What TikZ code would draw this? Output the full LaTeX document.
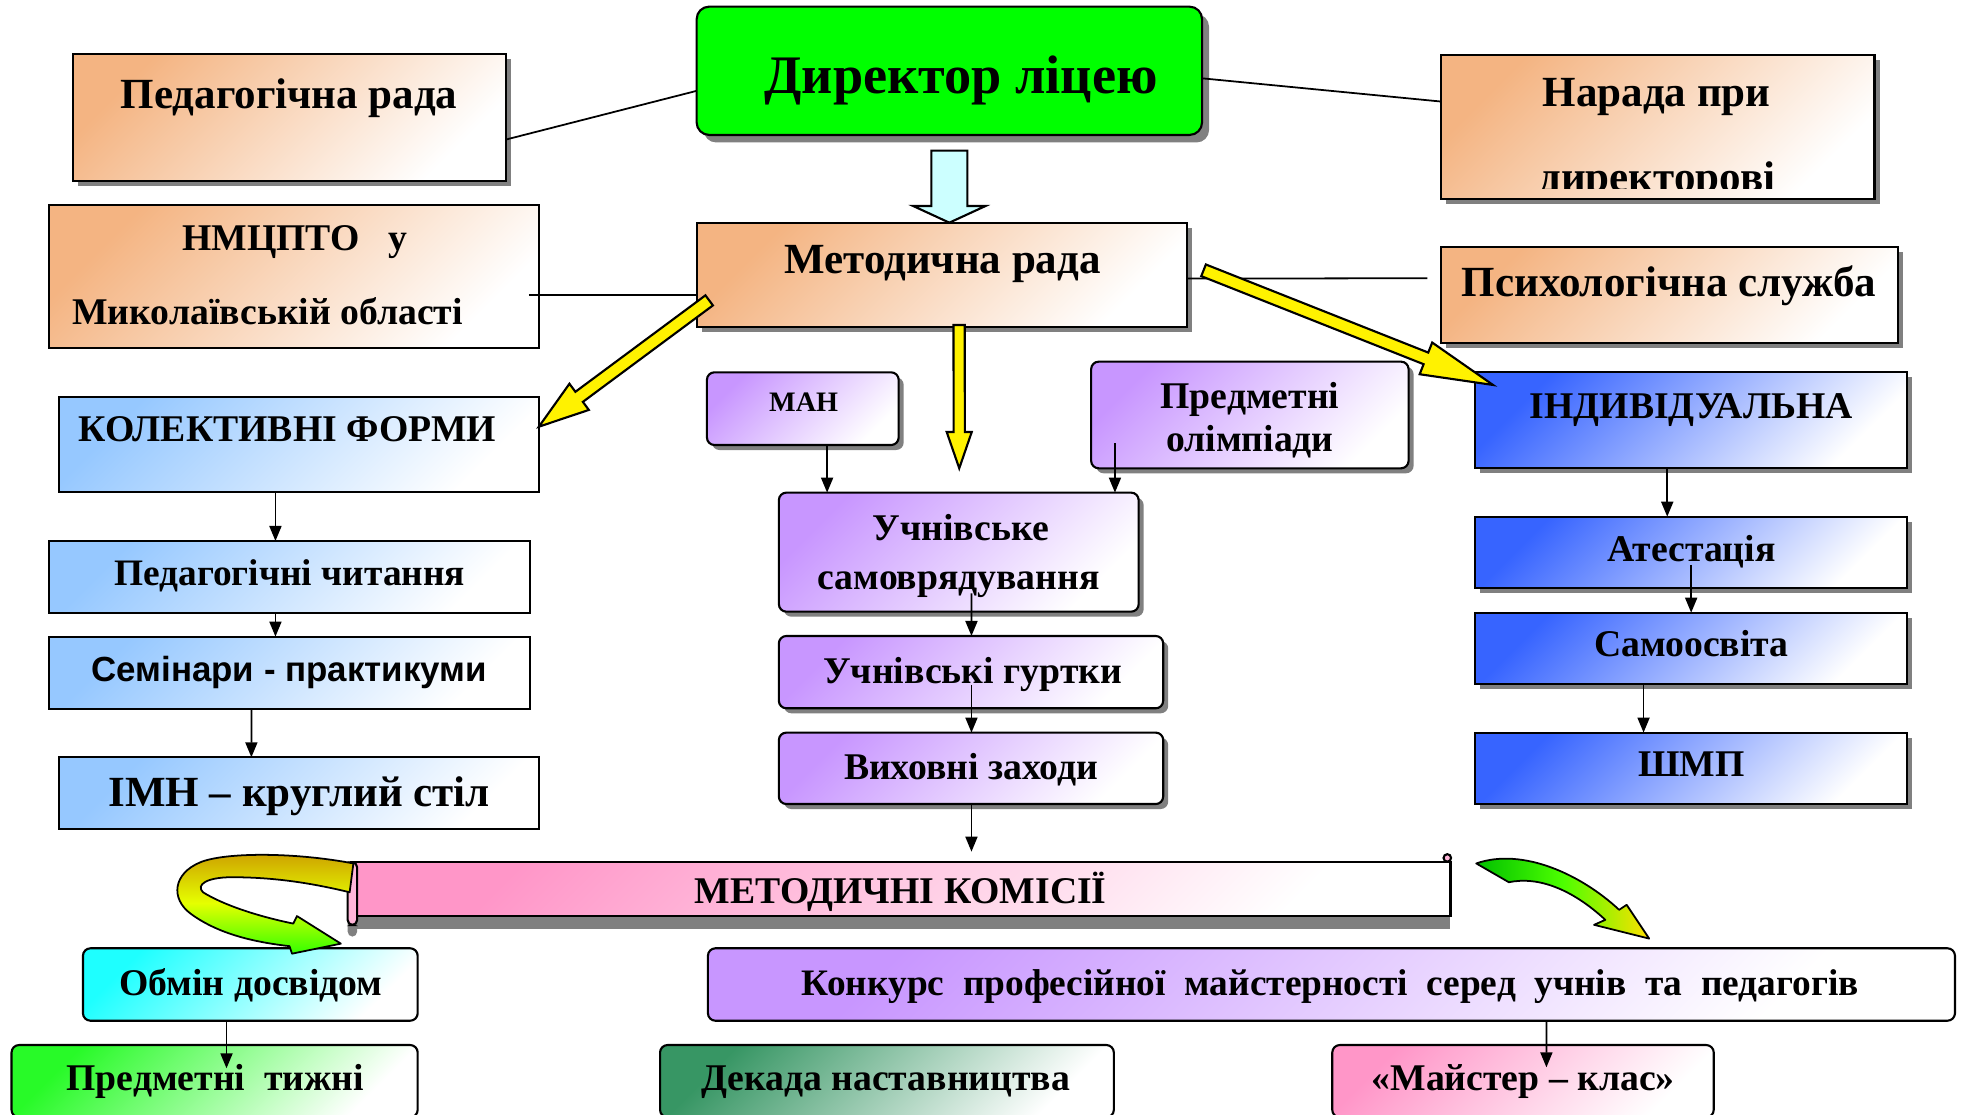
\documentclass[tikz,border=0pt]{standalone}
\usepackage{fontspec}
\setmainfont{Liberation Serif}
\newfontfamily\sansf{Liberation Sans}
\usetikzlibrary{calc,shadows,arrows.meta}

\definecolor{orng}{RGB}{244,180,130}
\definecolor{lblue}{RGB}{150,200,255}
\definecolor{sblue}{RGB}{55,100,255}
\definecolor{purp}{RGB}{200,150,255}
\definecolor{grn}{RGB}{0,255,0}
\definecolor{cyn}{RGB}{30,255,255}
\definecolor{lgrn}{RGB}{40,250,40}
\definecolor{dgrn}{RGB}{55,150,100}
\definecolor{pnk}{RGB}{255,150,200}
\definecolor{icecyan}{RGB}{204,255,255}
\definecolor{gold}{RGB}{205,160,0}

\def \u {0.0125cm}

\tikzstyle{box} = [draw,line width=0.6pt,outer sep=0pt,inner sep=0pt]
\tikzstyle{rbox} = [box,rounded corners=0.075cm]
\tikzstyle{shad} = [drop shadow={shadow xshift=0.05cm,shadow yshift=-0.05cm,fill=black!50,opacity=1}]
\tikzset{fade/.style={top color=#1,bottom color=white,shading angle=45}}
\tikzstyle{txt} = [anchor=base,inner sep=0pt,font=\bfseries\fontsize{10.7}{13}\selectfont]
\tikzstyle{txtb} = [txt,font=\bfseries\fontsize{12.2}{14}\selectfont]
\tikzstyle{arr} = [line width=0.5pt,-{Triangle[length=0.15cm,width=0.12cm]}]
\tikzstyle{link} = [line width=0.5pt]
\tikzstyle{fat} = [draw,line width=0.6pt,fill=yellow,line join=miter]

% fat arrow: from, to, shaft half width, head half width, head length, style
\newcommand{\fatarrow}[6]{%
  \coordinate (fa-a) at (#1);
  \coordinate (fa-b) at (#2);
  \coordinate (fa-h) at ($(fa-b)!#5!(fa-a)$);
  \path[#6] ($(fa-a)!#3!90:(fa-b)$) -- ($(fa-h)!#3!-90:(fa-a)$) -- ($(fa-h)!#4!-90:(fa-a)$)
    -- (fa-b) -- ($(fa-h)!#4!90:(fa-a)$) -- ($(fa-h)!#3!90:(fa-a)$) -- ($(fa-a)!#3!-90:(fa-b)$) -- cycle;}

\begin{document}
\begin{tikzpicture}[x=\u,y=-\u]
\path[use as bounding box] (0,0) rectangle (1568,889);
\clip (0,0) rectangle (1568,889);

% top
\node[rbox,fill=grn,rounded corners=0.125cm,drop shadow={shadow xshift=0.07cm,shadow yshift=-0.075cm,fill=black!50,opacity=1},minimum width=403.3*\u,minimum height=102.4*\u] (dir) at (757.55,56.5) {};
\node[txt,font=\bfseries\fontsize{15.4}{18}\selectfont] (dir-t) at (767,74.5) {Директор ліцею};

\node[box,shad,fade=orng,minimum width=345.5*\u,minimum height=101*\u] (pr) at (230.85,93.9) {};
\node[txtb] (pr-t) at (230.7,86.5) {Педагогічна рада};

\node[box,shad,fade=orng,minimum width=345.8*\u,minimum height=115.1*\u] (nar) at (1322.9,101.45) {};
\node[txtb] (nar-t) at (1322,84.6) {Нарада при};
\begin{scope}
  \clip (nar.north west) rectangle ($(nar.south east)+(0,-8.7)$);
  \node[txtb] (nar-t2) at (1322.5,153) {директорові};
\end{scope}

\node[box,fade=orng,minimum width=390.8*\u,minimum height=114.4*\u] (nm) at (234.6,220.8) {};
\node[txt] (nm-t) at (235,199.5) {НМЦПТО~~~у};
\node[txt,anchor=base west] (nm-t2) at (57,259.3) {Миколаївській області};

\node[box,shad,fade=orng,minimum width=391.5*\u,minimum height=83*\u] (mr) at (751.65,219.2) {};
\node[txtb] (mr-t) at (752.1,218.6) {Методична рада};

\node[box,shad,fade=orng,minimum width=364.6*\u,minimum height=76.6*\u] (ps) at (1332.3,235.1) {};
\node[txtb] (ps-t) at (1331.75,236.7) {Психологічна служба};

% left column
\node[box,fade=lblue,minimum width=382.6*\u,minimum height=76.4*\u] (kf) at (238.7,354.7) {};
\node[txt] (kf-t) at (229.4,352.4) {КОЛЕКТИВНІ ФОРМИ};
\node[box,fade=lblue,minimum width=383.6*\u,minimum height=57.7*\u] (pc) at (231,460.55) {};
\node[txt,font=\bfseries\fontsize{10.6}{13}\selectfont] (pc-t) at (231.2,467.3) {Педагогічні читання};
\node[box,fade=lblue,minimum width=383.6*\u,minimum height=57.7*\u] (sp) at (231,536.85) {};
\node[txt,font=\sansf\bfseries\fontsize{9.9}{12}\selectfont] (sp-t) at (230.7,543.9) {Семінари - практикуми};
\node[box,fade=lblue,minimum width=382.6*\u,minimum height=57.5*\u] (imn) at (238.7,633.05) {};
\node[txt,font=\bfseries\fontsize{12.2}{15}\selectfont] (imn-t) at (238.7,643.2) {ІМН – круглий стіл};

% middle column
\node[rbox,shad,fade=purp,minimum width=153*\u,minimum height=58*\u] (man) at (640.6,326.1) {};
\node[txt,font=\bfseries\fontsize{8}{10}\selectfont] (man-t) at (641.3,328.5) {МАН};
\node[rbox,shad,fade=purp,minimum width=253.3*\u,minimum height=85.1*\u] (po) at (997.35,331.15) {};
\node[txt] (po-t) at (997.4,325.8) {Предметні};
\node[txt] (po-t2) at (997.4,360.4) {олімпіади};
\node[rbox,shad,fade=purp,minimum width=287.1*\u,minimum height=95*\u] (us) at (765.05,440.6) {};
\node[txt] (us-t) at (766.6,431.7) {Учнівське};
\node[txt] (us-t2) at (765,470.8) {самоврядування};
\node[rbox,shad,fade=purp,minimum width=306.7*\u,minimum height=57.7*\u] (ug) at (774.85,536.35) {};
\node[txt] (ug-t) at (776.1,545.3) {Учнівські гуртки};
\node[rbox,shad,fade=purp,minimum width=306.7*\u,minimum height=57*\u] (vz) at (774.85,613.1) {};
\node[txt] (vz-t) at (775,622.4) {Виховні заходи};

% right column
\node[box,shad,fade=sblue,minimum width=345*\u,minimum height=76.6*\u] (ind) at (1349.5,335.4) {};
\node[txt] (ind-t) at (1349.5,333.8) {ІНДИВІДУАЛЬНА};
\node[box,shad,fade=sblue,minimum width=345*\u,minimum height=57.2*\u] (at) at (1349.5,440.9) {};
\node[txt] (at-t) at (1349.7,448.2) {Атестація};
\node[box,shad,fade=sblue,minimum width=345*\u,minimum height=56.9*\u] (so) at (1349.5,517.35) {};
\node[txt] (so-t) at (1349.7,524) {Самоосвіта};
\node[box,shad,fade=sblue,minimum width=345*\u,minimum height=57*\u] (shmp) at (1349.5,613.1) {};
\node[txt] (shmp-t) at (1349.5,619.7) {ШМП};

% banner
\node[box,fade=pnk,drop shadow={shadow xshift=0cm,shadow yshift=-0.13cm,fill=black!50,opacity=1},minimum width=877.4*\u,minimum height=42.9*\u] (mk) at (718.7,709.55) {};
\fill[black!50,rounded corners=0.05cm] ($(mk.north west)+(-2.6,12)$) rectangle ($(mk.south west)+(5,16.4)$);
\draw[line width=0.6pt,fill=pnk!70,rounded corners=0.05cm] ($(mk.north west)+(-2.6,0)$) rectangle ($(mk.south west)+(5,7.1)$);
\draw[line width=0.6pt,fill=pnk!70] ($(mk.north east)+(-2.5,-3.5)$) circle (0.0375cm);
\node[txt] (mk-t) at (718.7,721.3) {МЕТОДИЧНІ КОМІСІЇ};

% bottom
\node[rbox,fade=cyn,minimum width=267.1*\u,minimum height=57.8*\u] (ob) at (199.75,785.6) {};
\node[txt] (ob-t) at (200.25,794) {Обмін досвідом};
\node[rbox,fade=purp,minimum width=995.1*\u,minimum height=57.8*\u] (kk) at (1062.45,785.6) {};
\node[txt,font=\bfseries\fontsize{10.6}{13}\selectfont] (kk-t) at (1061.6,794) {Конкурс~~професійної~~майстерності~~серед~~учнів~~та~~педагогів};
\node[rbox,fade=lgrn,minimum width=324.1*\u,minimum height=57.7*\u] (tij) at (171.25,862.75) {};
\node[txt] (tij-t) at (171.75,869.8) {Предметні~~тижні};
\node[rbox,fade=dgrn,minimum width=362.1*\u,minimum height=57.7*\u] (dek) at (707.75,862.75) {};
\node[txt] (dek-t) at (706.65,869.8) {Декада наставництва};
\node[rbox,fade=pnk,minimum width=304.4*\u,minimum height=57.7*\u] (mst) at (1215.3,862.75) {};
\node[txt] (mst-t) at (1215.4,869.8) {«Майстер – клас»};

% plain links
\draw[link] ($(pr.south east)+(0,-33)$) -- ($(dir.west)+(0,16)$);
\draw[link] ($(dir.east)+(0,6)$) -- ($(nar.west)+(0,-20.4)$);
\draw[link] ($(nm.east)+(-8,14.6)$) -- ($(mr.west)+(0,16.2)$);
\draw[link] ($(mr.east)+(0,3)$) -- ($(ps.west)+(-11,-13)$);

% block arrows
\fatarrow{$(dir.south)+(0,12.5)$}{dir.south |- mr.north}{0.18cm}{0.36cm}{0.166cm}{fat,fill=icecyan}
\fatarrow{$(mr.south west)+(10,-21)$}{$(kf.north east)+(0,24)$}{0.0625cm}{0.1625cm}{0.5cm}{fat}
\fatarrow{$(mr.south)+(13.7,-1.4)$}{$(us.north)+(0.4,-19.4)$}{0.056cm}{0.125cm}{0.3625cm}{fat}
\fatarrow{$(mr.north east)+(13,38)$}{$(ind.north west)+(14.4,10.1)$}{0.0625cm}{0.17cm}{0.72cm}{fat}

% thin arrows
\draw[arr] ($(kf.south)+(-18.9,0)$) -- ($(pc.north)+(-11.2,0)$);
\draw[arr] ($(pc.south)+(-11.2,0)$) -- ($(sp.north)+(-11.2,0)$);
\draw[arr] ($(sp.south)+(-30.4,0)$) -- ($(imn.north)+(-38.1,0)$);
\draw[arr] ($(man.south)+(19.4,0)$) -- ($(us.north)+(-105.05,0)$);
\draw[arr] ($(po.south west)+(19,-20)$) -- ($(us.north)+(124.65,0)$);
\draw[arr] ($(us.south)+(10.15,-14.6)$) -- ($(ug.north)+(0.35,0)$);
\draw[arr] ($(ug.south)+(0.35,-18.6)$) -- ($(vz.north)+(0.35,0)$);
\coordinate (vzend) at ($(vz.south)+(0.35,38)$);
\draw[arr] ($(vz.south)+(0.35,0)$) -- (vzend);
\draw[arr] ($(ind.south)+(-19.1,0)$) -- ($(at.north)+(-19.1,0)$);
\draw[arr] ($(at.south)+(0,-18.7)$) -- (so.north);
\draw[arr] ($(so.south)+(-38,0)$) -- ($(shmp.north)+(-38,0)$);
\draw[arr] ($(ob.south)+(-19,0)$) -- ($(tij.north)+(9.5,18.6)$);
\draw[arr] ($(kk.south)+(171.5,0)$) -- ($(mst.north)+(18.7,17.8)$);

% curved arrows
\path[draw,line width=0.5pt,line join=round,top color=gold,bottom color=green!80!yellow,middle color=yellow!90!green]
  (282,689) .. controls (235,680) and (180,680) .. (160,688)
  .. controls (138,697) and (136,717) .. (152,729)
  .. controls (175,746) and (205,752) .. (231,755)
  -- (233,761) -- (272,753) -- (237,731) -- (234,737)
  .. controls (205,731) and (178,722) .. (162,712)
  .. controls (156,706) and (165,700) .. (185,700)
  .. controls (220,700) and (250,705) .. (279,712) -- cycle;
\path[draw,line width=0.5pt,line join=round,left color=green!75!black,right color=yellow!75!orange,middle color=green!70!yellow]
  (1178,689) .. controls (1215,676) and (1262,698) .. (1292,726)
  -- (1298,722) -- (1316,749) -- (1272,738) -- (1281,734)
  .. controls (1255,710) and (1228,699) .. (1204,704) -- cycle;
\end{tikzpicture}
\end{document}
